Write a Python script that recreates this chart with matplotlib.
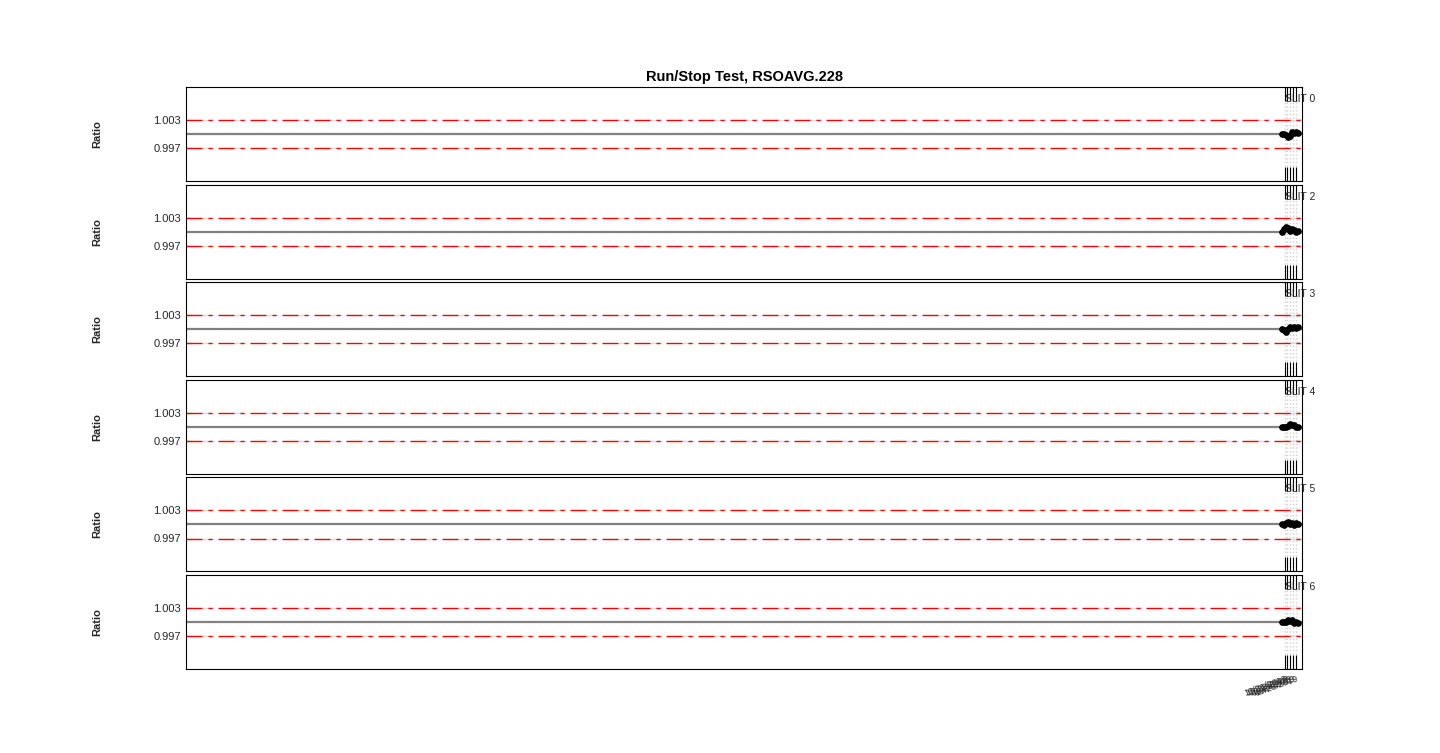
import numpy as np
import matplotlib.pyplot as plt

plt.rcParams['font.family'] = ['Liberation Sans', 'DejaVu Sans']

# x positions (days) of the run/stop samples, axis starts far to the left
days = [365.3, 365.9, 366.6, 367.3, 367.9, 368.6, 369.3, 370.0, 370.6]
x_limits = [0.0, 372.0]
tick_days = [366.3, 367.0, 368.0, 369.0, 370.0]
tick_labels = ['10/21/2019', '10/22/2019', '10/23/2019', '10/24/2019', '10/25/2019']

slits = ['SLIT 0', 'SLIT 2', 'SLIT 3', 'SLIT 4', 'SLIT 5', 'SLIT 6']
ratios = {
    'SLIT 0': [1.0000, 0.9999, 0.9997, 0.9993, 0.9996, 1.0004, 1.0002, 1.0005, 1.0003],
    'SLIT 2': [0.9999, 1.0005, 1.0009, 1.0007, 1.0001, 1.0006, 1.0004, 1.0000, 1.0001],
    'SLIT 3': [1.0001, 0.9998, 0.9994, 1.0001, 1.0004, 1.0002, 1.0005, 1.0003, 1.0004],
    'SLIT 4': [0.9999, 1.0000, 0.9999, 1.0002, 1.0005, 1.0003, 1.0003, 1.0000, 0.9999],
    'SLIT 5': [1.0000, 0.9998, 1.0002, 1.0005, 1.0001, 1.0004, 0.9999, 1.0002, 1.0001],
    'SLIT 6': [1.0000, 1.0001, 1.0000, 1.0005, 1.0002, 1.0004, 0.9998, 1.0001, 0.9998],
}
upper, lower = 1.003, 0.997

px = 0.72  # points per pixel at 100 dpi
red_style = (0, (16 * px, 6 * px, 4 * px, 6 * px))
gray_style = (16 * px, (12 * px, 20 * px))

fig = plt.figure(figsize=(14.4, 7.53), dpi=100)
left, width = 186 / 1440, 1116 / 1440
h = 94 / 753
step = 97.6 / 753
top = 1 - 87 / 753

axes = []
for i, name in enumerate(slits):
    ax = fig.add_axes([left, top - h - i * step, width, h])
    axes.append(ax)
    ax.axhline(1.0, color='0.5', lw=1.6, zorder=2)
    for lvl in (upper, lower):
        ax.axhline(lvl, color='0.85', lw=1.0, ls=gray_style, zorder=2)
        ax.axhline(lvl, color='red', lw=1.0, ls=red_style, zorder=2)
    ax.plot(days, ratios[name], color='black', lw=2.5, marker='o', ms=3.8, zorder=3)
    ax.set_xlim(x_limits)
    ax.set_ylim(0.99, 1.01)
    ax.set_yticks([lower, upper])
    ax.set_yticklabels(['0.997', '1.003'], fontsize=8, color='0.15')
    ax.set_xticks(tick_days)
    ax.grid(axis='x', color='0.82', ls=':', lw=1.0)
    ax.tick_params(axis='x', direction='in', length=10, width=0.8, top=True, bottom=True)
    ax.tick_params(axis='y', direction='in', length=4, width=0.8, left=True, right=True)
    ax.set_ylabel('Ratio', fontsize=8, fontweight='bold', color='0.15')
    ax.yaxis.set_label_coords(-0.075, 0.5)
    for sp in ax.spines.values():
        sp.set_linewidth(0.8)
    ax.text(366.3, 1.0085, name, fontsize=7.5, color='0.15', ha='left', va='top')
    if i < len(slits) - 1:
        ax.set_xticklabels([])
    else:
        ax.set_xticklabels(tick_labels, rotation=20, ha='right', fontsize=6.5,
                           color='0.15', rotation_mode='anchor')

axes[0].set_title('Run/Stop Test, RSOAVG.228', fontsize=10.5, fontweight='bold', pad=4)

fig.savefig('out.png', dpi=100)
